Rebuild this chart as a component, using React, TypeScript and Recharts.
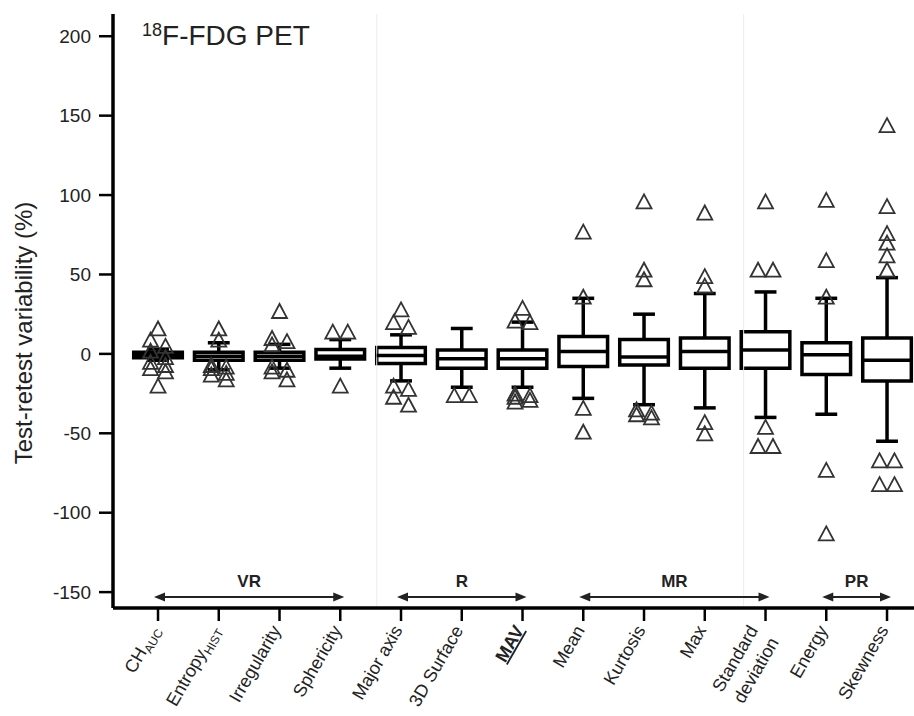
import React from 'react';
import { ScatterChart, Scatter, XAxis, YAxis, ReferenceArea, ReferenceLine } from 'recharts';

// ---- data ----
const categories = [
  'CH_AUC', 'Entropy_HIST', 'Irregularity', 'Sphericity', 'Major axis', '3D Surface', 'MAV',
  'Mean', 'Kurtosis', 'Max', 'Standard\ndeviation', 'Energy', 'Skewness',
];
const whiskerLow = [-4, -10, -9, -9, -17, -21, -21, -28, -32, -34, -40, -38, -55];
const q1 = [-2.5, -4, -4, -3.3, -6, -9, -9, -8, -7, -9, -9, -13, -17];
const median = [-0.5, -1.5, -1.5, -1.5, -1, -3, -3, 1.5, -2, 1.5, 2.5, -0.5, -4];
const q3 = [1, 1, 1, 2.7, 4, 2.5, 2.5, 11, 9, 10, 14, 7, 10];
const whiskerHigh = [3, 7, 6, 9, 12, 16, 20, 35, 25, 38, 39, 35, 48];
const outliers: number[][] = [
  [16, 9, 5, 2, -2, -5, -7, -9, -11, -20],
  [16, 9, -7, -8, -9, -12, -13, -16],
  [27, 10, 8, 6, -8, -10, -11, -16],
  [14, 14, -20],
  [28, 20, 17, -20, -22, -27, -32],
  [-26, -26],
  [29, 21, 20, -25, -26, -27, -29, -30],
  [77, 36, -34, -49],
  [96, 53, 47, -35, -37, -38, -40],
  [89, 49, 43, -43, -50],
  [96, 53, 53, -46, -58, -58],
  [97, 59, 36, -73, -113],
  [144, 93, 76, 70, 62, 53, -67, -67, -82, -82],
];
const groupNames = ['VR', 'R', 'MR', 'PR'];
const groupFrom = [0, 4, 7, 11];
const groupTo = [3, 6, 10, 12];
const yTicks = [-150, -100, -50, 0, 50, 100, 150, 200];

// ---- style constants ----
const FONT = '"Liberation Sans", Arial, Helvetica, sans-serif';
const BOX_HALF = 0.4;
const CAP_HALF = 0.18;
const JITTER = 0.123;
const CLUSTER = 5.5;
const LINE_W = 3.5;
const ARROW_Y = -153;
const GROUP_LABEL_Y = -143;
const SEPARATORS = [3.6, 9.64];
const X_DOMAIN: [number, number] = [-0.741, 12.444];
const Y_DOMAIN: [number, number] = [-160, 214];

function outlierPoints() {
  const pts: { x: number; y: number }[] = [];
  outliers.forEach((vals, i) => {
    const sorted = [...vals].sort((a, b) => b - a);
    let cluster: number[] = [];
    const flush = () => {
      if (cluster.length === 1) pts.push({ x: i, y: cluster[0] });
      else cluster.forEach((v, k) => pts.push({ x: i + (k % 2 === 0 ? -1 : 1) * JITTER, y: v }));
      cluster = [];
    };
    sorted.forEach((v) => {
      if (cluster.length && cluster[cluster.length - 1] - v >= CLUSTER) flush();
      cluster.push(v);
    });
    if (cluster.length) flush();
  });
  return pts;
}

const Triangle = (p: any) => {
  const { cx, cy } = p;
  if (cx == null || cy == null) return <g />;
  const w = 7.5;
  const h = 14;
  return (
    <polygon
      points={`${cx},${cy - h / 2} ${cx - w},${cy + h / 2} ${cx + w},${cy + h / 2}`}
      fill="none"
      stroke="#333"
      strokeWidth={1.8}
    />
  );
};

const ArrowHead = (p: any) => {
  const { cx, cy, payload } = p;
  if (cx == null || cy == null) return <g />;
  const d = payload.dir;
  const tip = cx + d * 4;
  const base = tip - d * 11;
  return <polygon points={`${tip},${cy} ${base},${cy - 4.5} ${base},${cy + 4.5}`} fill="#222" />;
};

const GroupLabel = (p: any) => {
  const { cx, cy, payload } = p;
  if (cx == null || cy == null) return <g />;
  return (
    <text x={cx} y={cy} dy="0.35em" textAnchor="middle" fontFamily={FONT} fontWeight="bold" fontSize={17} fill="#222">
      {payload.label}
    </text>
  );
};

const XTick = (props: any) => {
  const { x, y, payload } = props;
  const label: string = categories[payload.value] ?? '';
  const common = { textAnchor: 'end' as const, fontSize: 18, fill: '#222', fontFamily: FONT };
  if (label.includes('\n')) {
    const lines = label.split('\n');
    return (
      <g transform={`translate(${x - 7},${y + 7}) rotate(-60)`}>
        {lines.map((ln, k) => (
          <text key={k} x={0} y={k * 24} {...common}>
            {ln}
          </text>
        ))}
      </g>
    );
  }
  let content: React.ReactNode = label;
  let extra: any = {};
  if (label.includes('_')) {
    const [main, sub] = label.split('_');
    content = (
      <>
        <tspan>{main}</tspan>
        <tspan fontSize={12} dy={4}>
          {sub}
        </tspan>
      </>
    );
  }
  if (label === 'MAV') extra = { fontWeight: 'bold', textDecoration: 'underline' };
  return (
    <g transform={`translate(${x + 2},${y + 7}) rotate(-60)`}>
      <text x={0} y={0} {...common} {...extra}>
        {content}
      </text>
    </g>
  );
};

export default function App() {
  const pts = outlierPoints();
  const arrowHeads = groupNames.flatMap((_, g) => [
    { x: groupFrom[g], y: ARROW_Y, dir: -1 },
    { x: groupTo[g], y: ARROW_Y, dir: 1 },
  ]);
  const groupLabels = groupNames.map((label, g) => ({ x: (groupFrom[g] + groupTo[g]) / 2, y: GROUP_LABEL_Y, label }));

  return (
    <div style={{ position: 'absolute', left: 0, top: 0, width: 914, height: 716, background: '#fff', overflow: 'hidden' }}>
      <ScatterChart width={914} height={716} margin={{ top: 14, right: 0, bottom: 0, left: 0 }}>
        <XAxis
          type="number"
          dataKey="x"
          domain={X_DOMAIN}
          allowDataOverflow
          ticks={categories.map((_, i) => i)}
          interval={0}
          height={108}
          tickSize={13}
          tickMargin={2}
          axisLine={{ stroke: '#000', strokeWidth: LINE_W }}
          tickLine={{ stroke: '#000', strokeWidth: 2.5 }}
          tick={<XTick />}
        />
        <YAxis
          type="number"
          dataKey="y"
          domain={Y_DOMAIN}
          allowDataOverflow
          ticks={yTicks}
          interval={0}
          width={113}
          tickSize={14}
          tickMargin={8}
          axisLine={{ stroke: '#000', strokeWidth: LINE_W }}
          tickLine={{ stroke: '#000', strokeWidth: 2.5 }}
          tick={{ fill: '#222', fontSize: 19, fontFamily: FONT }}
        />
        {SEPARATORS.map((s) => (
          <ReferenceLine key={'sep' + s} x={s} stroke="#ececec" strokeWidth={1} />
        ))}
        {categories.map((_, i) => (
          <ReferenceLine
            key={'wl' + i}
            segment={[{ x: i, y: whiskerLow[i] }, { x: i, y: q1[i] }]}
            stroke="#000"
            strokeWidth={LINE_W}
          />
        ))}
        {categories.map((_, i) => (
          <ReferenceLine
            key={'wh' + i}
            segment={[{ x: i, y: q3[i] }, { x: i, y: whiskerHigh[i] }]}
            stroke="#000"
            strokeWidth={LINE_W}
          />
        ))}
        {categories.map((_, i) => (
          <ReferenceLine
            key={'cl' + i}
            segment={[{ x: i - CAP_HALF, y: whiskerLow[i] }, { x: i + CAP_HALF, y: whiskerLow[i] }]}
            stroke="#000"
            strokeWidth={LINE_W}
          />
        ))}
        {categories.map((_, i) => (
          <ReferenceLine
            key={'ch' + i}
            segment={[{ x: i - CAP_HALF, y: whiskerHigh[i] }, { x: i + CAP_HALF, y: whiskerHigh[i] }]}
            stroke="#000"
            strokeWidth={LINE_W}
          />
        ))}
        {categories.map((_, i) => (
          <ReferenceArea
            key={'box' + i}
            x1={i - BOX_HALF}
            x2={i + BOX_HALF}
            y1={q1[i]}
            y2={q3[i]}
            fill="#fff"
            fillOpacity={1}
            stroke="#000"
            strokeWidth={LINE_W}
          />
        ))}
        {categories.map((_, i) => (
          <ReferenceLine
            key={'med' + i}
            segment={[{ x: i - BOX_HALF, y: median[i] }, { x: i + BOX_HALF, y: median[i] }]}
            stroke="#000"
            strokeWidth={LINE_W}
          />
        ))}
        {groupNames.map((g, k) => (
          <ReferenceLine
            key={'arr' + g}
            segment={[{ x: groupFrom[k], y: ARROW_Y }, { x: groupTo[k], y: ARROW_Y }]}
            stroke="#222"
            strokeWidth={2}
          />
        ))}
        <Scatter data={pts} shape={<Triangle />} isAnimationActive={false} />
        <Scatter data={arrowHeads} shape={<ArrowHead />} isAnimationActive={false} />
        <Scatter data={groupLabels} shape={<GroupLabel />} isAnimationActive={false} />
      </ScatterChart>
      <div
        style={{
          position: 'absolute',
          left: 142,
          top: 16,
          fontFamily: FONT,
          fontSize: 28,
          color: '#222',
          whiteSpace: 'nowrap',
          lineHeight: '40px',
        }}
      >
        <sup style={{ fontSize: 18, verticalAlign: 'top', lineHeight: '28px' }}>18</sup>F-FDG PET
      </div>
      <svg style={{ position: 'absolute', left: 0, top: 0, pointerEvents: 'none' }} width={60} height={716}>
        <text
          transform="translate(32,333) rotate(-90)"
          textAnchor="middle"
          fontFamily={FONT}
          fontSize={24}
          fill="#222"
        >
          Test-retest variability (%)
        </text>
      </svg>
    </div>
  );
}
